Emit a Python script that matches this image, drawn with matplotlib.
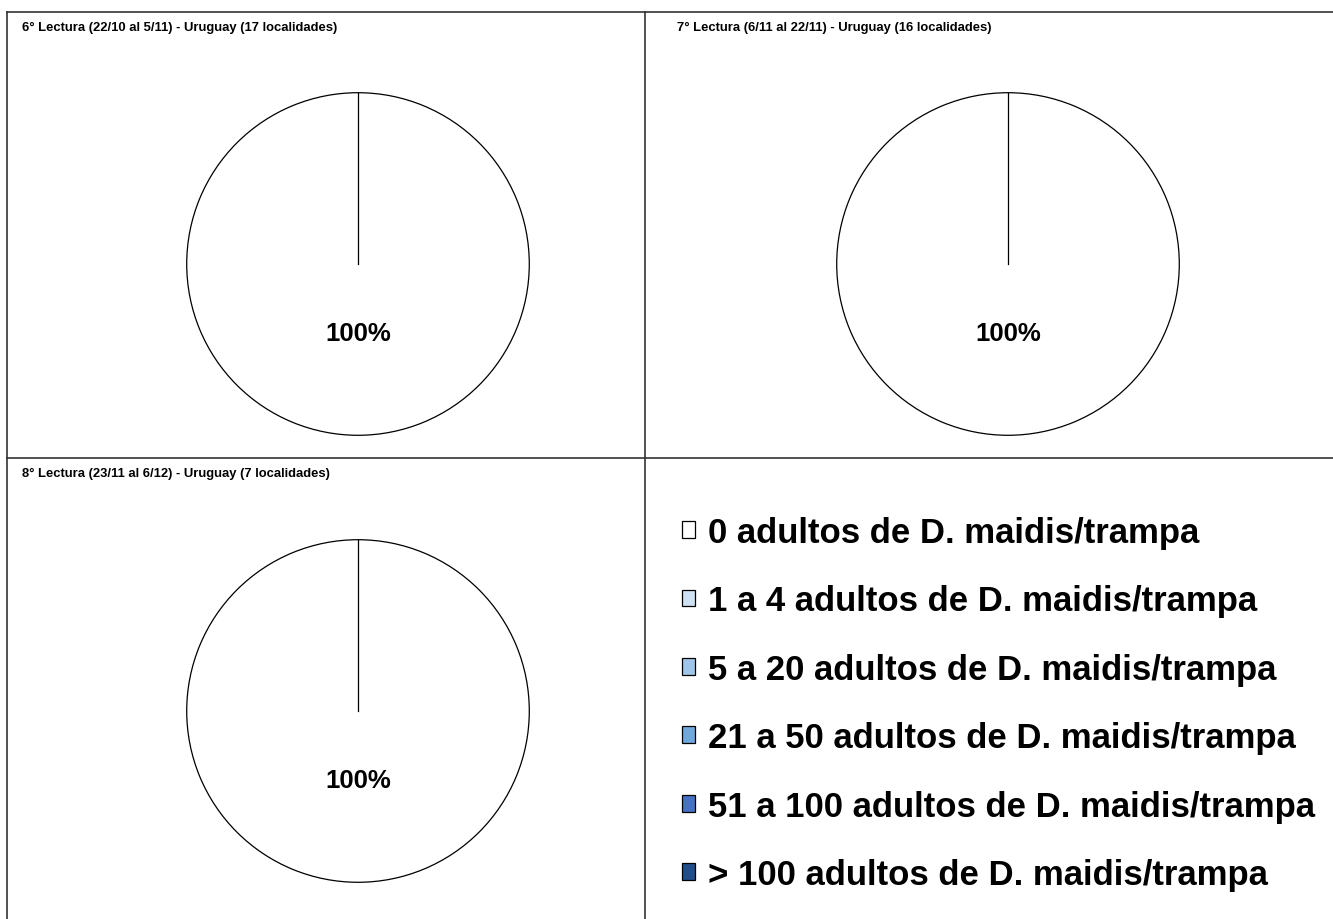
import matplotlib
matplotlib.use("Agg")
import matplotlib.pyplot as plt
from matplotlib.patches import Patch
from matplotlib.lines import Line2D

plt.rcParams["font.family"] = ["Liberation Sans", "DejaVu Sans"]

# Data
titles = [
    "6° Lectura (22/10 al 5/11) - Uruguay (17 localidades)",
    "7° Lectura (6/11 al 22/11) - Uruguay (16 localidades)",
    "8° Lectura (23/11 al 6/12) - Uruguay (7 localidades)",
]
# share of localities per class, one list per reading
shares = [
    [100, 0, 0, 0, 0, 0],
    [100, 0, 0, 0, 0, 0],
    [100, 0, 0, 0, 0, 0],
]
classes = [
    "0 adultos de D. maidis/trampa",
    "1 a 4 adultos de D. maidis/trampa",
    "5 a 20 adultos de D. maidis/trampa",
    "21 a 50 adultos de D. maidis/trampa",
    "51 a 100 adultos de D. maidis/trampa",
    "> 100 adultos de D. maidis/trampa",
]
colors = ["#ffffff", "#cfe2f3", "#9fc5e8", "#6fa8dc", "#4472c4", "#1f4e8c"]

W, H = 1333, 920
fig = plt.figure(figsize=(W / 100, H / 100), dpi=100)

def px(x, y):
    # pixel coords (top-left origin) -> figure fraction
    return x / W, 1 - y / H

# panel frame lines
frame = [((7, 13), (1333, 13)), ((7, 13), (7, 920)), ((645, 13), (645, 920)),
         ((7, 459), (1333, 459))]
for (x0, y0), (x1, y1) in frame:
    a, b = px(x0, y0)
    c, d = px(x1, y1)
    fig.add_artist(Line2D([a, c], [b, d], color="#333333", lw=1.2))

# pie centres and titles positions (pixels)
centers = [(358, 265), (1008, 265), (358, 712)]
title_pos = [(22, 28), (677, 28), (22, 474)]
r = 173

for i in range(3):
    cx, cy = centers[i]
    ax = fig.add_axes([(cx - r) / W, (H - cy - r) / H, 2 * r / W, 2 * r / H])
    vals = [v for v in shares[i] if v > 0]
    cols = [c for v, c in zip(shares[i], colors) if v > 0]
    wedges, texts, autotexts = ax.pie(
        vals, colors=cols, startangle=90, counterclock=False,
        autopct="%1.0f%%", pctdistance=0.4,
        wedgeprops=dict(edgecolor="black", linewidth=0.9),
        textprops=dict(fontsize=18.5, fontweight="bold"))
    # slice boundary line from centre to the top
    w = wedges[0]
    ax.plot([w.center[0], w.center[0]], [w.center[1], w.center[1] + w.r],
            color="black", lw=0.9)
    ax.set_xlim(-1.01, 1.01)
    ax.set_ylim(-1.01, 1.01)
    ax.set_aspect("equal")
    tx, ty = px(*title_pos[i])
    fig.text(tx, ty, titles[i], fontsize=9.4, fontweight="bold",
             ha="left", va="center")

handles = [Patch(facecolor=c, edgecolor="black", linewidth=0.9) for c in colors]
lx, ly = px(682, 517)
fig.legend(handles, classes, loc="upper left", bbox_to_anchor=(lx, ly),
           frameon=False, prop=dict(size=25, weight="bold"),
           handlelength=0.36, handleheight=0.36, handletextpad=0.38,
           labelspacing=1.02, borderaxespad=0, borderpad=0)

fig.savefig("out.png", dpi=100)
